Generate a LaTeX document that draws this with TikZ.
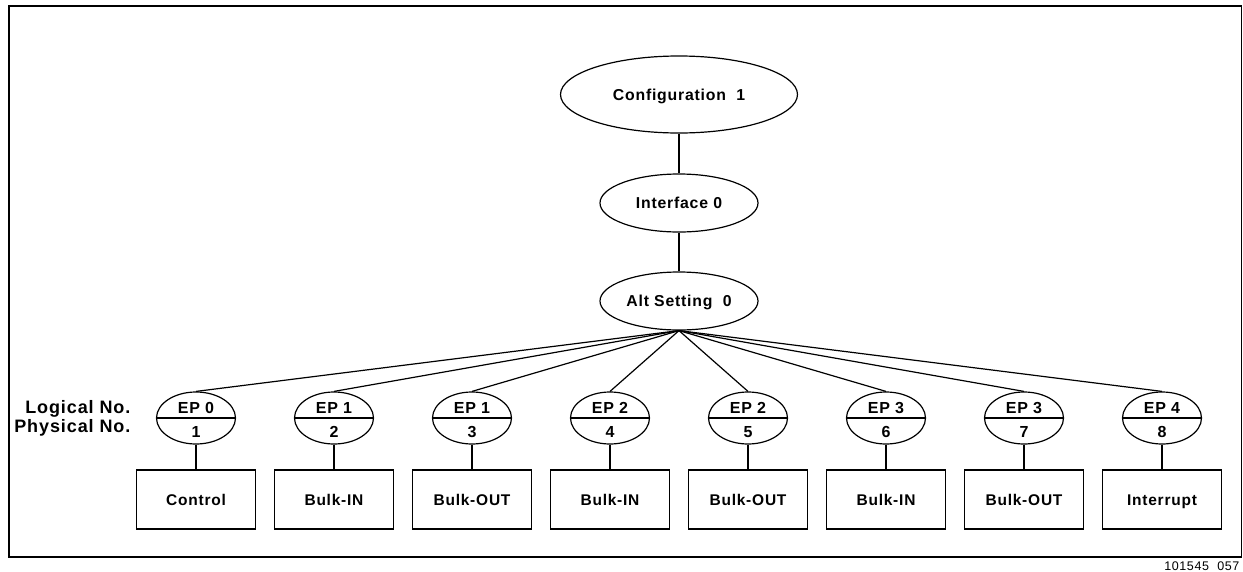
\documentclass[tikz,border=0pt]{standalone}
\usepackage{fontspec}
\setmainfont{Liberation Sans}[LetterSpace=5]
\usetikzlibrary{shapes.geometric}

\begin{document}
\begin{tikzpicture}[x=1pt, y=-1pt, line width=1.2pt,
  bubble/.style={draw, ellipse, inner sep=0pt, text depth=0pt,
    font=\fontsize{15.8}{18}\selectfont\bfseries},
  epnode/.style={draw, ellipse, minimum width=79pt, minimum height=52pt, inner sep=0pt,
    path picture={\draw (path picture bounding box.west) -- (path picture bounding box.east);}},
  eptext/.style={inner sep=0pt, font=\fontsize{16}{18}\selectfont\bfseries},
  typebox/.style={draw, minimum width=119pt, minimum height=59pt, inner sep=0pt,
    text height=11pt, text depth=0pt, font=\fontsize{15.5}{18}\selectfont\bfseries},
  rowlabel/.style={inner sep=0pt, font=\fontsize{18}{21}\selectfont\bfseries}]
  \useasboundingbox (0,0) rectangle (1243,571);

  % outer frame
  \draw (9,6) rectangle (1241.5,557);

  % configuration / interface / alternate setting
  \node[bubble, minimum width=237pt, minimum height=77pt] (config) at (679,94.5) {Configuration\ \ 1};
  \node[bubble, minimum width=158pt, minimum height=58pt] (iface)  at (679,203)  {Interface 0};
  \node[bubble, minimum width=158pt, minimum height=58pt] (alt)    at (679,301)  {Alt Setting\ \ 0};
  \draw (config) -- (iface);
  \draw (iface) -- (alt);

  % row captions
  \node[rowlabel, anchor=base east] (logical)  at (131,413) {Logical No.};
  \node[rowlabel, anchor=base east] (physical) at (131,432) {Physical No.};

  % endpoints and their transfer types
  \foreach \i/\ep/\kind in {0/0/Control, 1/1/Bulk-IN, 2/1/Bulk-OUT, 3/2/Bulk-IN,
                            4/2/Bulk-OUT, 5/3/Bulk-IN, 6/3/Bulk-OUT, 7/4/Interrupt} {
    \pgfmathsetmacro{\xx}{196+138*\i}
    \pgfmathtruncatemacro{\phys}{\i+1}
    \node[epnode] (ep\i) at (\xx,418) {};
    \node[eptext, anchor=base] (log\i)  at (\xx,413) {EP\hspace{0.32em}\ep};
    \node[eptext, anchor=base] (phy\i)  at (\xx,437.5) {\phys};
    \node[typebox] (kind\i) at (\xx,499.5) {\kind};
    \draw (alt.south) -- (ep\i.north);
    \draw (ep\i) -- (kind\i);
  }

  % figure number
  \node[inner sep=0pt, anchor=base east, font=\fontsize{12.5}{14}\selectfont] (fignum) at (1240,570) {101545\ \ 057};
\end{tikzpicture}
\end{document}
